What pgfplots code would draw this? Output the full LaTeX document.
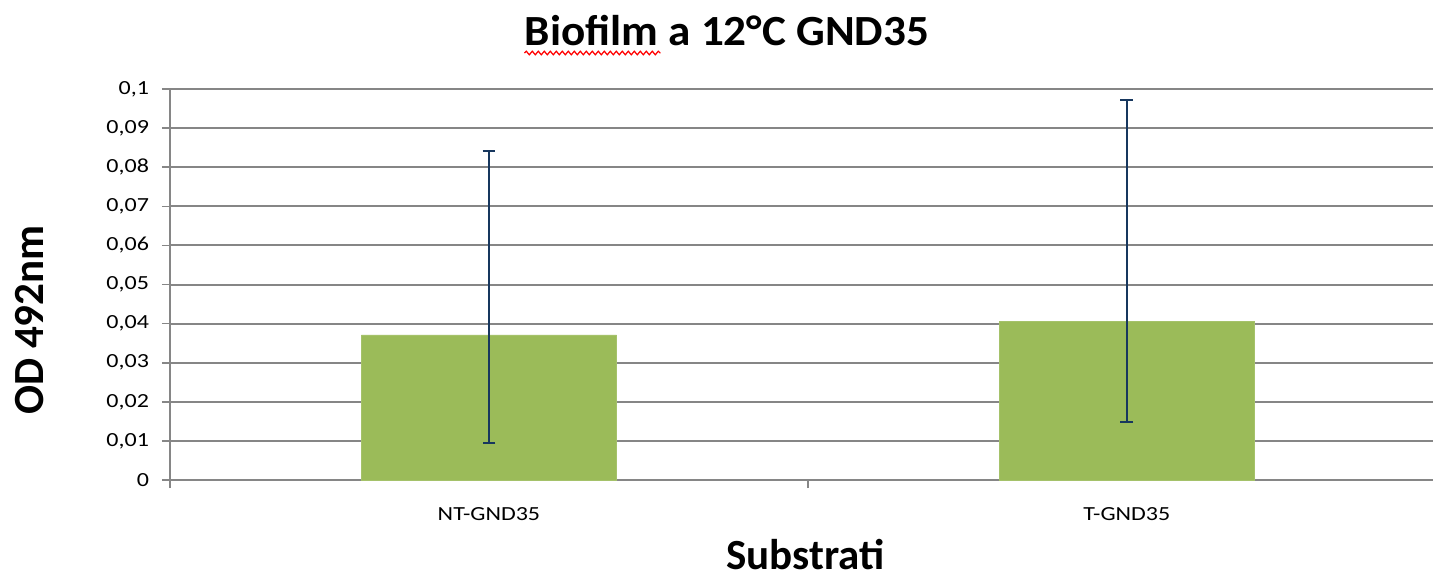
\documentclass[border=0pt]{standalone}
\usepackage{pgfplots}
\pgfplotsset{compat=1.18}
\usepackage{fontspec}
\setmainfont{Carlito}
\newfontfamily\tickfont[FakeStretch=1.2]{Carlito}
\newfontfamily\titlefont[FakeStretch=1.05]{Carlito}
\usetikzlibrary{decorations.pathmorphing}
\definecolor{barg}{RGB}{155,187,89}
\definecolor{errb}{RGB}{23,55,94}
\definecolor{gridg}{RGB}{134,134,134}
\begin{document}
\begin{tikzpicture}
\path[use as bounding box] (-85pt,-49.5pt) rectangle (631.5pt,240pt);
\begin{axis}[
  name=ax,
  scale only axis,
  width=631.5pt, height=195.5pt,
  xmin=-0.5, xmax=1.48,
  ymin=0, ymax=0.1,
  axis x line*=bottom, axis y line*=left,
  axis line style={gridg, line width=1pt},
  ytick={0,0.01,...,0.1},
  ymajorgrids,
  major grid style={gridg, line width=1pt},
  xtick={0,1},
  xticklabels={NT-GND35,T-GND35},
  extra x ticks={-0.5,0.5},
  extra x tick labels={},
  extra x tick style={grid=none, xtick style={draw=gridg, line width=0.8pt}},
  tick align=outside,
  major tick length=4pt,
  xtick style={draw=none},
  ytick style={draw=gridg, line width=0.8pt},
  ticklabel style={font=\tickfont\fontsize{10}{12}\selectfont, text=black},
  /pgf/number format/use comma,
  /pgf/number format/fixed,
  /pgf/number format/precision=2,
  /pgf/number format/assume math mode=true,
  yticklabel style={xshift=-3pt},
  xticklabel style={yshift=-6pt},
  clip=false,
]
\addplot[ybar, bar width=0.4, fill=barg, draw=barg!90!white,
  error bars/.cd, y dir=both, y explicit,
  error bar style={errb, line width=1pt},
  error mark options={errb, rotate=90, mark size=3.2pt, line width=1pt}]
  coordinates {
    (0,0.0371) += (0,0.0470) -= (0,0.0277)
    (1,0.0405) += (0,0.0566) -= (0,0.0256)
  };
\node[font=\titlefont\bfseries\fontsize{21.5}{24}\selectfont, anchor=base, inner sep=0pt] (t) at (axis description cs:0.441,1) [yshift=22pt] {Biofilm a 12°C GND35};
\draw[red, line width=0.6pt, decorate, decoration={snake, amplitude=0.9pt, segment length=3pt}]
  ([yshift=-4pt]t.base west) -- ++(68pt,0pt);
\node[font=\bfseries\fontsize{21.5}{24}\selectfont, anchor=base, inner sep=0pt] at (axis description cs:0.503,0) [yshift=-44.5pt] {Substrati};
\node[xshift=-63pt, rotate=90, font=\bfseries\fontsize{21.5}{24}\selectfont, anchor=base, inner sep=0pt] at (axis description cs:0,0.409) {OD 492nm};
\end{axis}
\end{tikzpicture}
\end{document}
